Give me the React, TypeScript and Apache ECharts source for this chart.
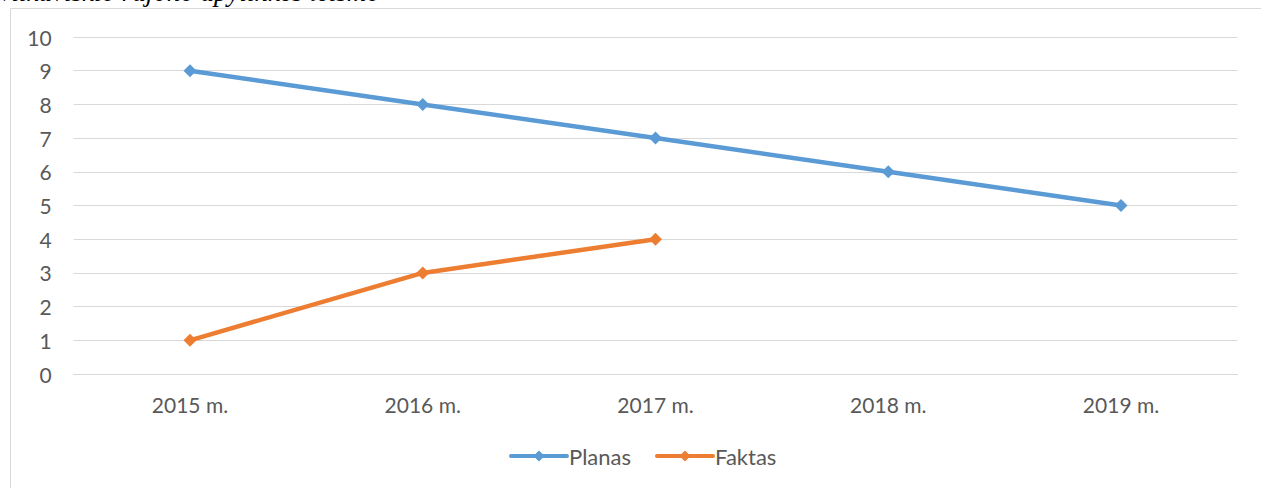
import React, { useEffect, useRef } from "react";
import * as echarts from "echarts";

const categories = ["2015 m.", "2016 m.", "2017 m.", "2018 m.", "2019 m."];
const planas = [9, 8, 7, 6, 5];
const faktas = [1, 3, 4, null, null];
const yTicks = { min: 0, max: 10, interval: 1 };
const titleText = "Vilkaviškio rajono apylinkės teismo";

export default function App() {
  const ref = useRef<HTMLDivElement>(null);
  useEffect(() => {
    const chart = echarts.init(ref.current!, undefined, { renderer: "svg" });
    const font = "Lato, 'Noto Sans', sans-serif";
    chart.setOption({
      animation: false,
      backgroundColor: "#ffffff",
      graphic: [
        {
          type: "text",
          left: -3,
          top: -22,
          style: {
            text: titleText,
            font: "italic 27px 'Liberation Serif', 'DejaVu Serif', serif",
            fill: "#000000",
          },
        },
        {
          type: "polyline",
          shape: { points: [[10.5, 488], [10.5, 8.5], [1261, 8.5]] },
          style: { stroke: "#d9d9d9", lineWidth: 1, fill: "none" },
        },
      ],
      grid: { left: 73.6, right: 23.6, top: 37, bottom: 114, containLabel: false },
      legend: {
        bottom: 16,
        left: 504,
        itemWidth: 56,
        itemHeight: 14,
        itemGap: 24,
        lineStyle: { width: 4 },
        textStyle: { fontSize: 22, color: "#595959", fontFamily: font, padding: [0, 0, 0, -3] },
        data: ["Planas", "Faktas"],
      },
      xAxis: {
        type: "category",
        data: categories,
        boundaryGap: true,
        axisLine: { lineStyle: { color: "#d9d9d9", width: 1 } },
        axisTick: { show: false },
        axisLabel: { color: "#595959", fontSize: 21, fontFamily: font, margin: 20 },
      },
      yAxis: {
        type: "value",
        min: yTicks.min,
        max: yTicks.max,
        interval: yTicks.interval,
        axisLine: { show: false },
        axisTick: { show: false },
        splitLine: { lineStyle: { color: "#d9d9d9", width: 1 } },
        axisLabel: { color: "#595959", fontSize: 21, fontFamily: font, margin: 22 },
      },
      series: [
        {
          name: "Planas",
          type: "line",
          data: planas,
          color: "#5b9bd5",
          lineStyle: { width: 4.5, color: "#5b9bd5", cap: "round" },
          symbol: "diamond",
          symbolSize: 13,
          itemStyle: { color: "#5b9bd5" },
        },
        {
          name: "Faktas",
          type: "line",
          data: faktas,
          color: "#ed7d31",
          lineStyle: { width: 4.5, color: "#ed7d31", cap: "round" },
          symbol: "diamond",
          symbolSize: 13,
          itemStyle: { color: "#ed7d31" },
        },
      ],
    });
    return () => chart.dispose();
  }, []);
  return (
    <div
      ref={ref}
      style={{ position: "absolute", left: 0, top: 0, width: 1261, height: 488 }}
    />
  );
}
